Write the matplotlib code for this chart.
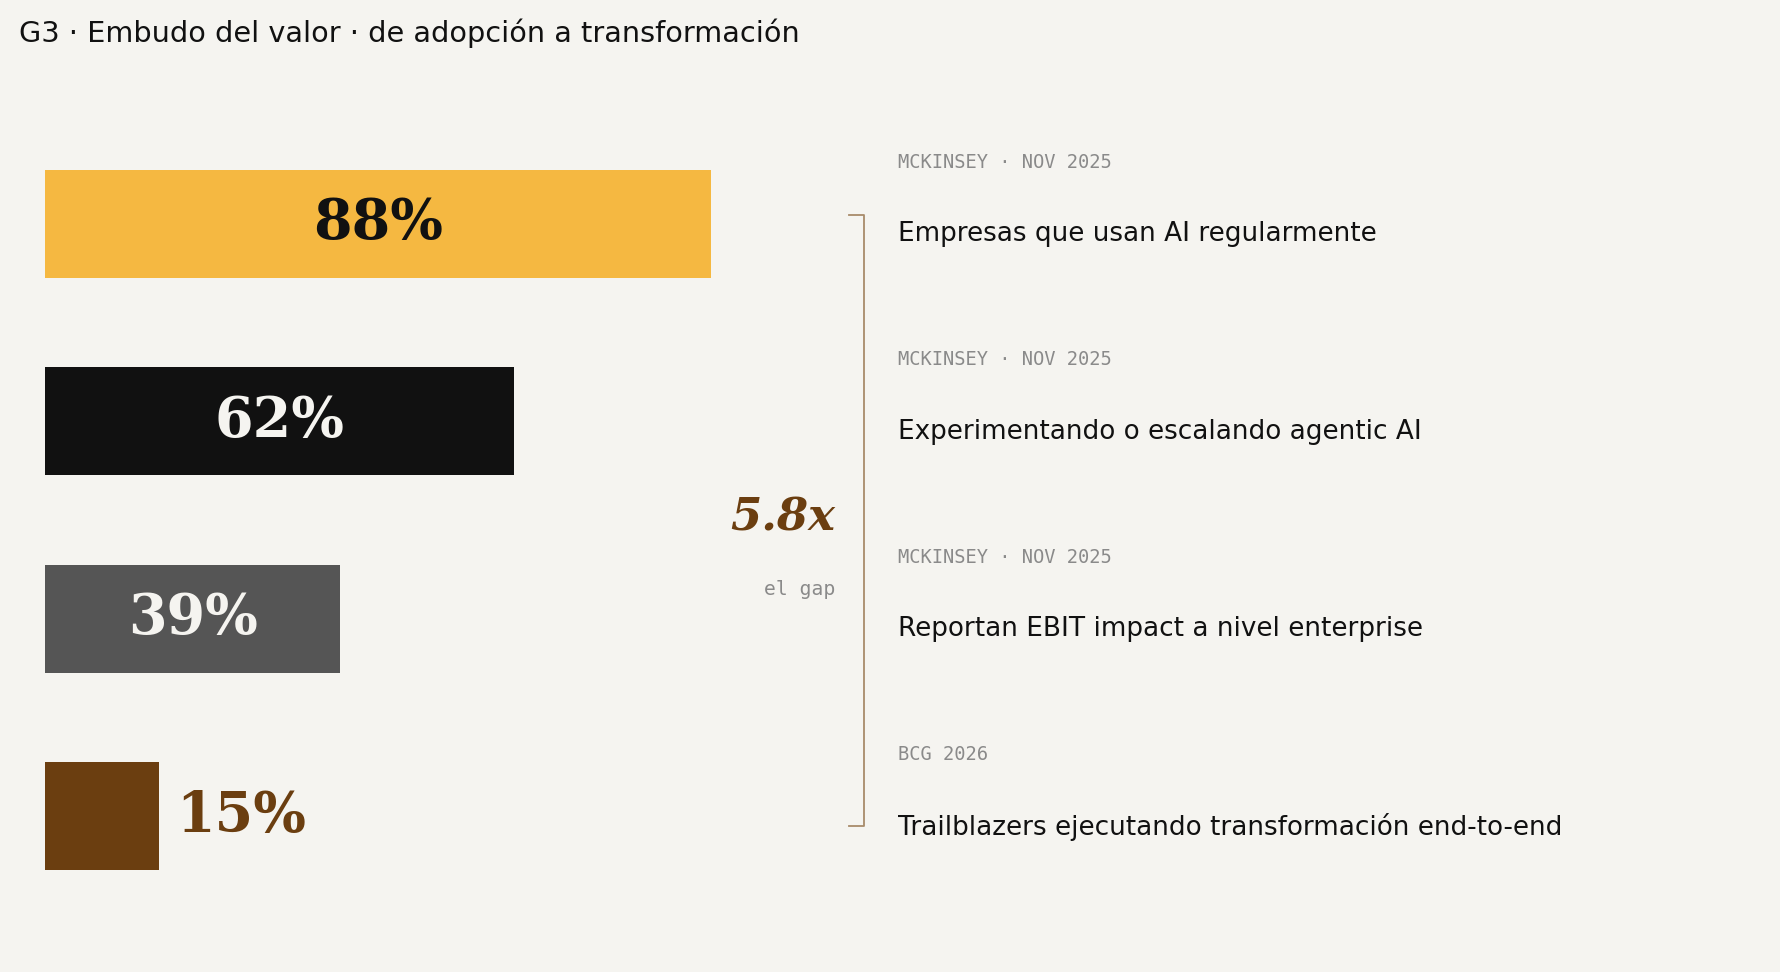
import matplotlib.pyplot as plt
from matplotlib import transforms

# datos del embudo
valores = [88, 62, 39, 15]
colores = ['#F5B841', '#111111', '#555555', '#6B3E10']
color_texto = ['#111111', '#F5F4F0', '#F5F4F0', '#6B3E10']
fuentes = ['MCKINSEY · NOV 2025', 'MCKINSEY · NOV 2025', 'MCKINSEY · NOV 2025', 'BCG 2026']
descripciones = ['Empresas que usan AI regularmente',
                 'Experimentando o escalando agentic AI',
                 'Reportan EBIT impact a nivel enterprise',
                 'Trailblazers ejecutando transformación end-to-end']
gap_texto = '5.8x'
gap_sub = 'el gap'
titulo = 'G3 · Embudo del valor · de adopción a transformación'

FONDO = '#F5F4F0'
W, H = 1781, 972

fig = plt.figure(figsize=(W / 100, H / 100), dpi=100)
fig.patch.set_facecolor(FONDO)

# eje de barras: 0-100 % -> 757 px, filas separadas ~197 px
ax = fig.add_axes([45 / W, 1 - 915 / H, 757 / W, 790 / H])
ax.set_facecolor(FONDO)
ax.set_xlim(0, 100)
ax.set_ylim(3.5, -0.5)
ax.axis('off')

y = list(range(len(valores)))
ax.barh(y, valores, height=0.547, color=colores)

for i, v in enumerate(valores):
    if v >= 30:
        ax.text(v / 2, i, f'{v}%', ha='center', va='center', fontsize=40,
                family='DejaVu Serif', weight='bold', color=color_texto[i])
    else:
        ax.text(v + 2.3, i, f'{v}%', ha='left', va='center', fontsize=40,
                family='DejaVu Serif', weight='bold', color=color_texto[i])

# textos a la derecha alineados con las filas
tr = transforms.blended_transform_factory(fig.transFigure, ax.transData)
x_txt = 898 / W
for i in y:
    ax.text(x_txt, i - 0.312, fuentes[i], transform=tr, ha='left', va='center',
            fontsize=13.5, family='DejaVu Sans Mono', color='#8A8A8A')
    ax.text(x_txt, i + 0.052, descripciones[i], transform=tr, ha='left', va='center',
            fontsize=18.9, color='#111111')

# corchete
xb, xt = 864 / W, 849 / W
ax.plot([xt, xb, xb, xt], [-0.045, -0.045, 3.05, 3.05], transform=tr,
        color='#A88B6B', lw=1.3, clip_on=False)

ax.text(835 / W, 1.492, gap_texto, transform=tr, ha='right', va='center',
        fontsize=32.4, family='DejaVu Serif', weight='bold', style='italic', color='#6B3E10')
ax.text(835 / W, 1.85, gap_sub, transform=tr, ha='right', va='center',
        fontsize=14.2, family='DejaVu Sans Mono', color='#8A8A8A')

fig.text(19 / W, 1 - 33 / H, titulo, ha='left', va='center', fontsize=20.7, color='#111111')

fig.savefig('out.png', dpi=100, facecolor=FONDO)
